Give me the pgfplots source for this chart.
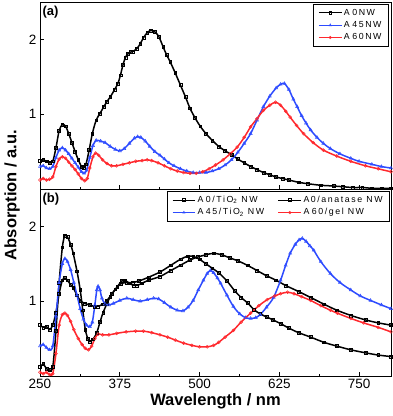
\documentclass[border=0pt]{standalone}
\usepackage{pgfplots}
\pgfplotsset{compat=1.18}
\usepackage{fontspec}
\setmainfont{Liberation Sans}
\newfontfamily\legfont[LetterSpace=18]{Liberation Sans}
\definecolor{cblue}{RGB}{45,75,255}
\definecolor{cred}{RGB}{255,40,45}
\newcommand{\gap}{\hspace{2.5pt}}

\pgfplotsset{
  panel/.style={
    scale only axis, width=351pt, height=187pt,
    xmin=250, xmax=800, ymin=0, ymax=2.5,
    xtick={250,375,500,625,750}, minor x tick num=1,
    ytick={1,2},
    tick pos=left, tick align=inside,
    major tick length=4pt, minor tick length=2.5pt,
    axis line style={line width=0.8pt},
    every tick/.style={black, line width=0.6pt},
    ticklabel style={font=\fontsize{13.5}{15}\selectfont},
    /pgf/number format/assume math mode=true,
    legend style={font=\legfont\fontsize{8.8}{10.5}\selectfont, draw=black, line width=0.7pt,
      inner xsep=5pt, inner ysep=2.5pt, row sep=0.8pt, cells={anchor=west}},
    legend image code/.code={
      \draw[mark repeat=2,mark phase=2,#1] plot coordinates {(0cm,0cm) (0.4cm,0cm) (0.8cm,0cm)};},
    legend image post style={line width=0.6pt, mark size=1.3pt},
    legend cell align=left,
  },
  s0/.style={black, line width=1.5pt, smooth, mark=square, mark size=1.4pt, mark options={line width=0.5pt, fill=none, solid}},
  s45/.style={cblue, line width=1.5pt, smooth, mark=triangle, mark size=1.8pt, mark options={line width=0.5pt, fill=none, solid}},
  s60/.style={cred, line width=1.5pt, smooth, mark=o, mark size=1.5pt, mark options={line width=0.5pt, fill=none, solid}},
}

\begin{document}
\begin{tikzpicture}
\useasboundingbox (-40pt,-40pt) rectangle (352pt,376pt);

% ---------------- panel (a) ----------------
\begin{axis}[panel, at={(0pt,187pt)}, xticklabels={},
  legend style={at={(rel axis cs:0.994,0.989)}, anchor=north east}]
\addplot[s0] coordinates {
(250,0.38)(255,0.39)(260,0.37)(265,0.35)(270,0.37)(275,0.55)(280,0.78)(285,0.86)(290,0.84)(295,0.74)
(300,0.62)(305,0.50)(310,0.39)(315,0.30)(318,0.28)(322,0.33)(327,0.52)(332,0.74)(338,0.92)(344,1.01)
(350,1.10)(355,1.17)(360,1.23)(367,1.33)(372,1.41)(376,1.52)(380,1.66)(384,1.76)(388,1.81)(392,1.83)(396,1.84)
(402,1.88)(407,1.94)(412,2.02)(418,2.09)(424,2.12)(430,2.10)(436,2.04)(443,1.90)(448,1.80)(454,1.70)(462,1.55)
(470,1.39)(478,1.23)(485,1.08)(493,0.95)(501,0.84)(510,0.74)(520,0.65)(530,0.57)(540,0.51)(550,0.46)
(560,0.40)(570,0.35)(580,0.30)(590,0.26)(600,0.22)(610,0.19)(620,0.16)(630,0.14)(640,0.12)(655,0.09)
(670,0.07)(690,0.05)(710,0.04)(725,0.03)(740,0.02)(755,0.02)(770,0.01)(785,0.01)(800,0.01)};
\addlegendentry{A\gap0NW}
\addplot[s45] coordinates {
(250,0.30)(255,0.31)(260,0.28)(265,0.27)(270,0.30)(275,0.42)(280,0.52)(285,0.55)(290,0.52)(295,0.47)
(300,0.41)(305,0.35)(310,0.29)(315,0.23)(319,0.21)(323,0.25)(328,0.42)(333,0.58)(338,0.65)(345,0.64)
(352,0.62)(360,0.57)(368,0.53)(375,0.51)(382,0.54)(390,0.61)(398,0.68)(403,0.70)(408,0.69)(415,0.64)
(422,0.57)(430,0.50)(438,0.45)(445,0.40)(452,0.35)(460,0.31)(470,0.27)(480,0.24)(490,0.22)(500,0.22)
(510,0.22)(520,0.24)(530,0.27)(540,0.32)(550,0.39)(560,0.49)(570,0.61)(580,0.74)(590,0.92)(600,1.10)
(610,1.24)(620,1.35)(627,1.40)(633,1.41)(640,1.33)(647,1.20)(653,1.10)(660,0.98)(667,0.88)(674,0.79)
(684,0.69)(694,0.61)(705,0.54)(720,0.47)(737,0.41)(750,0.37)(770,0.33)(785,0.30)(800,0.28)};
\addlegendentry{A\gap45NW}
\addplot[s60] coordinates {
(250,0.12)(255,0.14)(260,0.12)(265,0.13)(270,0.16)(275,0.30)(280,0.40)(285,0.43)(290,0.41)(295,0.36)
(300,0.31)(305,0.26)(310,0.20)(315,0.14)(320,0.11)(324,0.14)(328,0.28)(333,0.43)(337,0.48)(342,0.45)
(348,0.39)(355,0.34)(362,0.31)(370,0.31)(380,0.33)(390,0.35)(400,0.37)(410,0.38)(418,0.39)(425,0.38)
(435,0.35)(445,0.31)(455,0.27)(465,0.24)(475,0.22)(485,0.21)(495,0.21)(505,0.23)(515,0.27)(525,0.32)
(537,0.39)(548,0.47)(559,0.56)(570,0.69)(580,0.83)(590,0.94)(600,1.05)(610,1.12)(619,1.16)(627,1.12)
(635,1.04)(642,0.96)(652,0.85)(663,0.74)(678,0.62)(694,0.52)(715,0.44)(737,0.37)(760,0.31)(780,0.27)(800,0.23)};
\addlegendentry{A\gap60NW}
\node[anchor=north west, font=\bfseries\fontsize{13}{15}\selectfont, inner sep=1pt] at (rel axis cs:0.004,0.985) {(a)};
\end{axis}

% ---------------- panel (b) ----------------
\begin{axis}[panel, at={(0pt,0pt)},
  xlabel={Wavelength / nm},
  xlabel style={font=\bfseries\fontsize{16.5}{18}\selectfont, yshift=2pt},
  legend columns=2,
  legend style={at={(rel axis cs:0.997,0.989)}, anchor=north east,
    /tikz/every even column/.append style={column sep=12pt}}]
\addplot[s0] coordinates {
(250,0.12)(255,0.16)(260,0.10)(265,0.08)(270,0.12)(275,0.60)(280,1.25)(285,1.72)(289,1.88)(293,1.86)
(298,1.76)(302,1.64)(308,1.40)(313,1.15)(317,0.88)(321,0.62)(325,0.50)(328,0.46)(333,0.49)(339,0.58)
(344,0.72)(349,0.85)(355,0.97)(360,1.06)(368,1.16)(376,1.23)(385,1.25)(395,1.25)(405,1.27)(420,1.32)
(438,1.39)(455,1.48)(470,1.56)(481,1.60)(490,1.60)(500,1.56)(510,1.50)(520,1.44)(530,1.38)(543,1.27)
(555,1.14)(565,1.05)(575,0.98)(585,0.89)(595,0.83)(605,0.79)(615,0.75)(627,0.70)(640,0.64)(655,0.58)
(674,0.52)(695,0.45)(715,0.40)(737,0.35)(760,0.31)(780,0.28)(800,0.26)};
\addlegendentry{A\gap0/TiO\textsubscript{2} NW}
\addplot[s0] coordinates {
(250,0.68)(255,0.65)(260,0.66)(265,0.62)(270,0.68)(275,0.85)(280,1.10)(285,1.28)(289,1.31)(293,1.28)
(298,1.22)(302,1.18)(308,1.08)(313,1.01)(320,0.97)(328,0.95)(335,0.93)(341,0.93)(348,0.96)(355,1.01)
(363,1.10)(371,1.19)(378,1.27)(383,1.28)(390,1.24)(397,1.21)(402,1.21)(410,1.24)(420,1.28)(438,1.33)
(455,1.41)(470,1.48)(485,1.55)(497,1.59)(510,1.62)(522,1.64)(535,1.62)(547,1.58)(560,1.54)(575,1.48)
(590,1.41)(605,1.34)(620,1.28)(635,1.21)(655,1.13)(674,1.05)(695,0.96)(715,0.88)(737,0.81)(760,0.75)
(780,0.71)(800,0.68)};
\addlegendentry{A0/anatase NW}
\addplot[s45] coordinates {
(250,0.40)(255,0.42)(260,0.38)(265,0.35)(270,0.40)(275,0.80)(280,1.25)(285,1.50)(289,1.57)(293,1.53)
(298,1.42)(303,1.25)(308,1.08)(313,0.90)(318,0.76)(323,0.68)(328,0.66)(332,0.72)(336,0.95)(339,1.15)
(341,1.20)(344,1.15)(347,1.04)(352,0.96)(358,0.95)(365,0.97)(375,1.01)(386,1.04)(396,1.02)(407,1.00)
(418,1.02)(428,1.04)(436,1.03)(445,0.98)(455,0.92)(465,0.88)(474,0.87)(482,0.92)(490,1.01)(498,1.15)
(506,1.28)(512,1.37)(517,1.41)(522,1.38)(528,1.31)(533,1.24)(543,1.08)(553,0.93)(563,0.83)(572,0.78)
(580,0.77)(588,0.78)(595,0.82)(605,0.92)(616,1.05)(627,1.28)(635,1.48)(642,1.64)(650,1.76)(656,1.82)
(661,1.84)(667,1.80)(673,1.74)(679,1.68)(690,1.53)(705,1.37)(720,1.25)(737,1.15)(752,1.07)(768,1.01)
(785,0.95)(800,0.90)};
\addlegendentry{A\gap45/TiO\textsubscript{2} NW}
\addplot[s60] coordinates {
(250,0.05)(255,0.03)(260,0.05)(265,0.02)(270,0.03)(275,0.30)(280,0.68)(285,0.82)(289,0.84)(293,0.81)
(298,0.73)(303,0.62)(310,0.50)(316,0.42)(321,0.37)(326,0.35)(331,0.40)(336,0.50)(341,0.56)(348,0.55)
(358,0.55)(370,0.57)(385,0.59)(400,0.60)(412,0.60)(425,0.58)(438,0.55)(450,0.52)(462,0.48)(475,0.44)
(488,0.41)(500,0.39)(512,0.39)(522,0.41)(530,0.45)(540,0.52)(553,0.61)(565,0.72)(580,0.84)(593,0.94)
(606,1.02)(618,1.07)(627,1.10)(638,1.12)(648,1.10)(660,1.06)(674,1.01)(690,0.94)(705,0.88)(716,0.84)
(737,0.77)(757,0.71)(780,0.65)(800,0.59)};
\addlegendentry{A\gap60/gel NW}
\node[anchor=north west, font=\bfseries\fontsize{13}{15}\selectfont, inner sep=1pt] at (rel axis cs:0.004,0.985) {(b)};
\end{axis}

\node[rotate=90, font=\bfseries\fontsize{16.5}{18}\selectfont, inner sep=0pt] at (-28pt,181pt) {Absorption / a.u.};
\end{tikzpicture}
\end{document}
